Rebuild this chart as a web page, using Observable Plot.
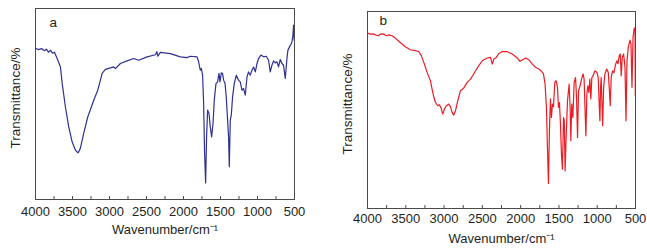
<!DOCTYPE html>
<html>
<head>
<meta charset="utf-8">
<script src="https://cdn.jsdelivr.net/npm/d3@7"></script>
<script src="https://cdn.jsdelivr.net/npm/@observablehq/plot@0.6"></script>
<style>
  html, body { margin: 0; padding: 0; background: #fff; }
  #wrap { position: relative; width: 647px; height: 250px; overflow: hidden; background: #fff; }
  #wrap svg { position: absolute; top: 0; }
</style>
</head>
<body>
<div id="wrap"></div>
<script>
// Panel a (navy spectrum)
const aWavenumber = [4000,3960,3919,3879,3852,3825,3798,3771,3744,3707,3663,3640,3595,3551,3505,3460,3424,3393,3348,3294,3213,3159,3123,3100,3055,2943,2920,2853,2762,2673,2606,2492,2380,2360,2346,2313,2178,2043,1952,1908,1817,1796,1773,1759,1742,1728,1715,1701,1688,1674,1655,1638,1620,1601,1584,1561,1539,1520,1507,1489,1472,1458,1439,1422,1404,1391,1381,1368,1354,1337,1314,1287,1256,1233,1210,1188,1165,1142,1121,1098,1075,1053,1030,1007,986,953,918,882,850,828,805,783,760,737,716,693,670,648,625,602,589,567,548,535,521,513,504];
const aTransmittance = [79.1,78.5,79.0,77.9,78.7,77.1,78.2,76.6,77.1,73.8,69.4,60.9,48.3,38.0,30.2,25.8,24.4,26.9,34.7,43.2,52.0,57.2,62.5,66.0,68.1,69.4,68.5,71.2,72.6,73.8,72.9,74.7,75.8,77.4,75.0,77.0,76.4,74.7,74.3,75.0,74.7,72.1,67.7,68.6,65.1,50.4,24.2,8.7,32.8,46.8,45.0,38.0,32.8,39.8,52.0,60.7,61.6,66.0,61.6,66.3,66.0,62.5,60.7,53.7,41.5,32.8,17.1,41.5,44.2,53.7,60.7,65.1,62.5,61.6,57.2,58.1,54.6,64.2,66.8,65.1,67.7,69.4,66.8,71.2,73.8,75.6,74.7,75.0,72.9,66.8,70.3,72.6,71.5,72.1,69.4,73.3,71.2,70.3,63.4,73.8,78.2,79.9,81.3,82.5,86.0,91.3,83.4];

// Panel b (red spectrum)
const bWavenumber = [4000,3965,3921,3886,3856,3834,3790,3755,3725,3680,3637,3572,3506,3441,3375,3332,3297,3257,3222,3179,3143,3113,3083,3061,3039,3018,2995,2969,2939,2917,2895,2874,2851,2821,2786,2742,2698,2655,2619,2589,2546,2501,2436,2393,2370,2349,2318,2284,2240,2174,2109,2043,2009,1978,1934,1891,1847,1803,1760,1716,1702,1681,1663,1650,1637,1624,1611,1598,1585,1571,1554,1537,1519,1506,1493,1480,1467,1454,1440,1430,1419,1406,1388,1367,1354,1345,1332,1318,1301,1283,1270,1257,1244,1223,1205,1184,1171,1157,1148,1135,1122,1109,1096,1083,1070,1053,1030,1004,987,974,965,956,948,939,929,916,899,877,856,843,830,817,799,782,759,742,729,712,699,686,673,655,637,624,611,594,572,559,546,532,519,506,502];
const bTransmittance = [89.1,88.5,88.6,88.0,87.7,88.5,88.6,87.7,88.1,87.7,86.5,84.3,82.1,80.6,80.1,79.7,77.6,73.3,69.1,64.9,58.1,53.8,52.2,52.7,51.0,47.9,50.5,52.2,53.0,51.7,48.8,47.4,49.6,54.7,59.8,61.2,64.0,65.7,67.9,69.9,72.5,75.0,76.4,76.7,73.3,75.9,76.7,78.7,79.7,79.6,78.4,76.4,74.7,75.4,76.4,75.4,73.3,71.6,70.8,69.1,68.3,63.2,51.3,31.0,12.7,39.5,55.6,46.2,53.0,51.7,64.0,64.9,61.5,51.3,53.8,42.9,27.6,20.0,46.2,44.5,19.1,36.1,54.7,63.2,51.3,34.4,53.0,46.2,64.0,66.5,56.4,36.1,59.8,62.3,65.7,68.3,65.7,47.9,36.9,58.1,62.3,58.9,65.7,55.6,66.5,67.4,69.9,69.1,66.5,53.0,44.5,61.5,66.5,54.7,42.0,61.5,68.3,70.8,69.1,61.5,52.2,66.5,69.9,68.9,73.3,75.0,73.5,77.6,78.4,67.4,76.7,78.4,71.6,44.5,75.0,81.8,85.5,83.5,61.5,86.9,91.1,91.9,57.2];

// Axis ticks / labels
const majorTicks = [4000, 3500, 3000, 2500, 2000, 1500, 1000, 500];
const minorTicks = [3750, 3500, 3250, 3000, 2750, 2500, 2250, 2000, 1750, 1500, 1250, 1000, 750];
const xDomain = [4000, 500];
const yDomain = [0, 100];
const xLabel = "Wavenumber/cm\u207B\u00B9";
const yLabel = "Transmittance/%";
const panelLabels = ["a", "b"];

const FONT = "'Liberation Sans', Arial, Helvetica, sans-serif";
const INK = "#231f20";
const FRAME = "#4a4a4a";

function panel({wn, tr, color, label, left, width, mt, mb, ml, mr, pad, letterDx, letterDy}) {
  const height = 250;
  const innerH = height - mt - mb;
  const data = wn.map((w, i) => ({w, t: tr[i]}));
  const svg = Plot.plot({
    width, height,
    marginTop: mt, marginBottom: mb, marginLeft: ml, marginRight: mr,
    x: {domain: xDomain, axis: null},
    y: {domain: yDomain, axis: null},
    style: {fontFamily: FONT, fontSize: "13px", color: INK, background: "transparent", overflow: "visible"},
    marks: [
      Plot.line(data, {x: "w", y: "t", stroke: color, strokeWidth: 1.2, curve: "linear"}),
      Plot.tickX(minorTicks, {x: d => d, stroke: FRAME, strokeWidth: 1, insetTop: innerH - 3}),
      Plot.frame({stroke: FRAME, strokeWidth: 1}),
      Plot.axisX(majorTicks, {anchor: "bottom", tickSize: 0, tickPadding: pad, tickFormat: d3.format("d"), label: null, fill: INK, fontSize: 13}),
      Plot.text([xLabel], {frameAnchor: "bottom", text: d => d, textAnchor: "middle", lineAnchor: "middle", dy: 30, fill: INK, fontSize: 13}),
      Plot.text([yLabel], {frameAnchor: "left", text: d => d, rotate: -90, textAnchor: "middle", lineAnchor: "middle", dx: -19.5, dy: -6, fill: INK, fontSize: 13.5}),
      Plot.text([label], {frameAnchor: "top-left", text: d => d, textAnchor: "start", lineAnchor: "middle", dx: letterDx, dy: letterDy, fill: INK, fontSize: 13.5})
    ]
  });
  svg.style.left = left + "px";
  document.getElementById("wrap").appendChild(svg);
}

panel({wn: aWavenumber, tr: aTransmittance, color: "#2e3192", label: panelLabels[0],
       left: 0, width: 310, mt: 8, mb: 51, ml: 35, mr: 16, pad: 7, letterDx: 14, letterDy: 14});
panel({wn: bWavenumber, tr: bTransmittance, color: "#ed1c24", label: panelLabels[1],
       left: 320, width: 327, mt: 11, mb: 42, ml: 47, mr: 12, pad: 5, letterDx: 12, letterDy: 9});
</script>
</body>
</html>
